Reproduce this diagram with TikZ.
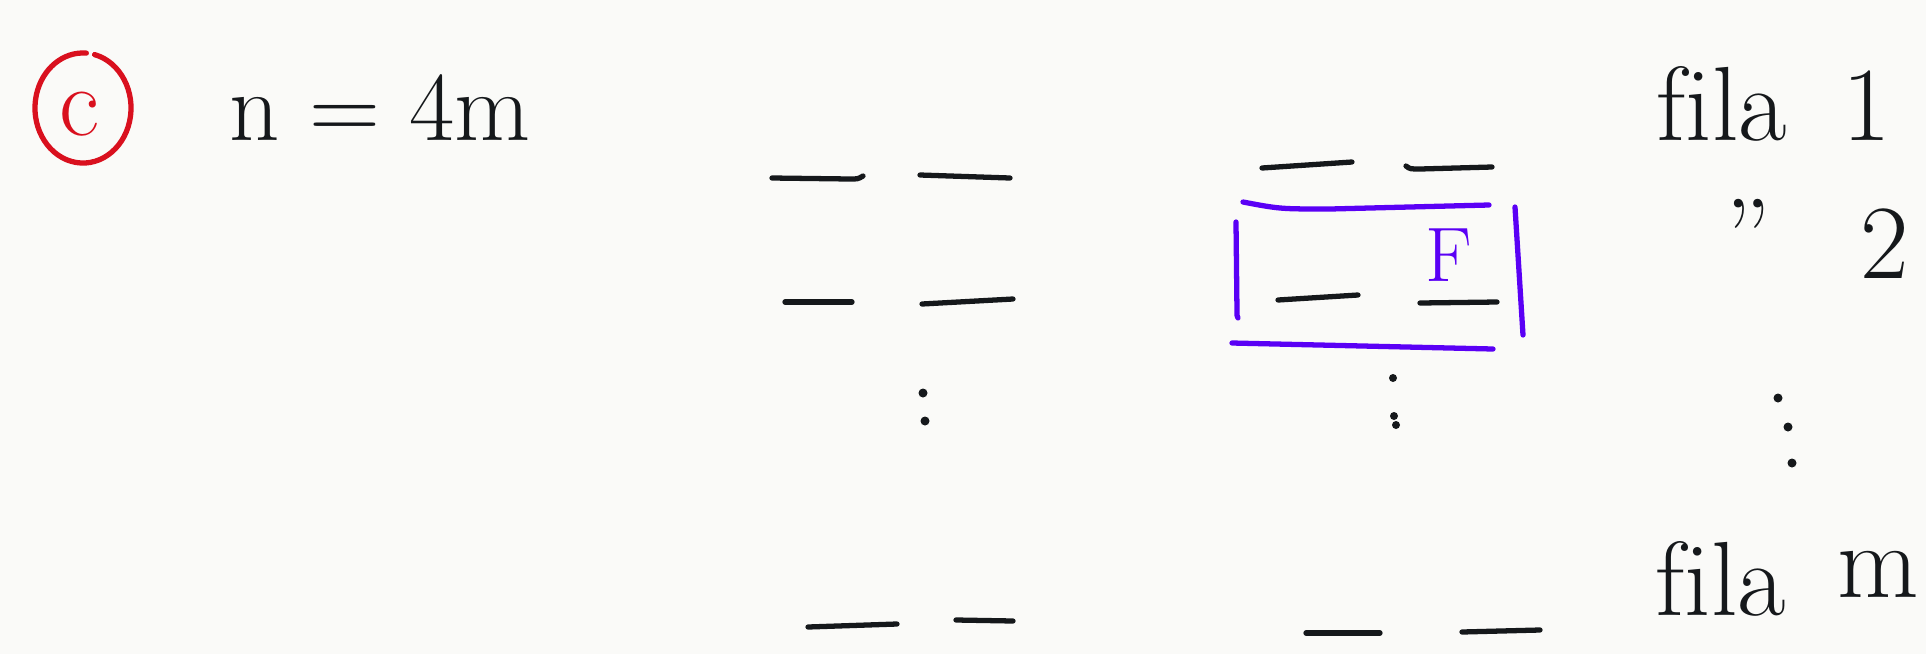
\documentclass[tikz,border=0pt]{standalone}
\usepackage{tikz}
\usepackage{xcolor}
\usetikzlibrary{positioning}

\definecolor{inkblack}{HTML}{15181B}
\definecolor{inkblue}{HTML}{5A00F5}
\definecolor{inkred}{HTML}{D9101E}
\definecolor{paper}{HTML}{FAFAF8}

\begin{document}
\begin{tikzpicture}[
      x=0.01cm, y=-0.01cm,
      % Styling strokes and text
      pen/.style={draw=inkblack, line width=1.5pt, line cap=round, line join=round},
      bluepen/.style={pen, draw=inkblue},
      redpen/.style={pen, draw=inkred},
      hand/.style={inner sep=0pt, text=inkblack, font=\fontsize{30}{36}\selectfont},
      dot/.style={fill=inkblack}
    ]

    % Page
    \fill[paper] (0,0) rectangle (1926,654);
    \useasboundingbox (0,0) rectangle (1926,654);

    % Circled c
    \draw[redpen] (83,108) ++(76:0.48cm and 0.55cm) arc[start angle=76, end angle=-274, x radius=0.48cm, y radius=0.55cm];
    \node (item) [hand, text=inkred, font=\fontsize{28}{34}\selectfont] at (79,114) {c};

    % Size relation
    \node (size) [hand, font=\fontsize{28}{34}\selectfont, anchor=base] at (380,140) {n = 4m};

    % First block of dashes
    \draw[pen] (772,178) -- (850,179) .. controls (858,179) .. (863,176);
    \draw[pen] (920,175) -- (1010,178);
    \draw[pen] (785,302) -- (852,302);
    \draw[pen] (922,304) -- (1013,299);
    \fill[dot] (923,393) circle[radius=0.045cm];
    \fill[dot] (925,421) circle[radius=0.045cm];
    \draw[pen] (808,627) -- (897,624);
    \draw[pen] (956,620) -- (1013,621);

    % Second block of dashes
    \draw[pen] (1262,168) -- (1352,162);
    \draw[pen] (1406,166) .. controls (1410,169) .. (1420,169) -- (1492,167);
    \draw[pen] (1278,300) -- (1358,295);
    \draw[pen] (1420,303) -- (1497,302);
    \fill[dot] (1393,378) circle[radius=0.04cm];
    \fill[dot] (1394,416) circle[radius=0.04cm];
    \fill[dot] (1396,425) circle[radius=0.04cm];
    \draw[pen] (1306,633) -- (1380,633);
    \draw[pen] (1462,632) -- (1540,630);

    % Blue frame round the second row
    \draw[bluepen] (1243,202) .. controls (1280,209) .. (1330,209) -- (1489,205);
    \draw[bluepen] (1236,222) -- (1237,312) .. controls (1237,316) .. (1238,318);
    \draw[bluepen] (1232,343) -- (1493,349);
    \draw[bluepen] (1515,207) -- (1523,335);
    \node (mark) [hand, text=inkblue, font=\fontsize{22}{26}\selectfont, anchor=base] at (1449,281) {F};

    % Row labels
    \node (first) [hand, anchor=base] at (1722,140) {f\kern0pt ila};
    \node (one) [hand, anchor=base] at (1867,140) {1};
    \node (ditto) [hand] at (1748,236) {''};
    \node (two) [hand, anchor=base] at (1885,278) {2};
    \fill[dot] (1778,398) circle[radius=0.045cm];
    \fill[dot] (1788,427) circle[radius=0.045cm];
    \fill[dot] (1792,463) circle[radius=0.045cm];
    \node (last) [hand, anchor=base] at (1721,615) {f\kern0pt ila};
    \node (em) [hand, anchor=base] at (1878,597) {m};

  \end{tikzpicture}
\end{document}
